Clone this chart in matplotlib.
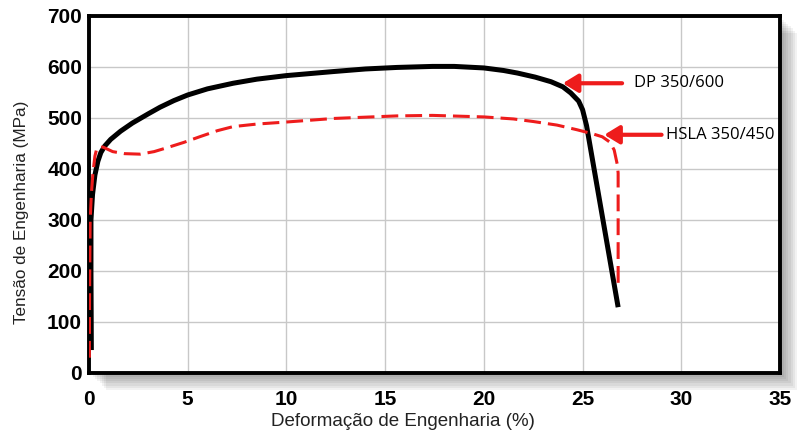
import matplotlib
matplotlib.use("Agg")
import matplotlib.pyplot as plt
from matplotlib.patches import Rectangle

# Curva DP 350/600 (deformação %, tensão MPa)
dp_strain = [0.12, 0.10, 0.10, 0.18, 0.30, 0.45, 0.60, 0.80, 1.1, 1.6, 2.2, 3.0, 3.6,
             4.3, 5.0, 6.0, 7.3, 8.5, 10.0, 12.4, 14.0, 15.6, 17.4, 18.5, 20.0,
             21.0, 21.7, 22.6, 23.4, 24.0, 24.4, 24.8, 25.0, 25.2, 26.8]
dp_stress = [45, 200, 300, 350, 388, 415, 432, 445, 458, 474, 490, 508, 521,
             534, 545, 557, 568, 576, 583, 591, 596, 599, 601, 601, 598,
             593, 588, 580, 571, 561, 549, 533, 516, 485, 129]

# Curva HSLA 350/450
hsla_strain = [0.02, 0.03, 0.06, 0.12, 0.2, 0.3, 0.4, 0.7, 1.2, 1.8, 2.6, 3.3, 3.9,
               4.8, 5.6, 6.5, 7.3, 8.5, 10.0, 12.4, 15.6, 17.4, 20.0, 21.5, 22.5,
               23.7, 24.7, 25.5, 26.0, 26.4, 26.6, 26.75, 26.8, 26.8]
hsla_stress = [30, 150, 300, 350, 392, 425, 441, 443, 434, 430, 429, 434, 441,
               452, 463, 475, 483, 488, 492, 499, 504, 505, 502, 498, 493,
               486, 477, 469, 463, 452, 437, 410, 392, 167]

x_ticks = [0, 5, 10, 15, 20, 25, 30, 35]
y_ticks = [0, 100, 200, 300, 400, 500, 600, 700]

fig = plt.figure(figsize=(7.98, 4.36), dpi=100)
fig.patch.set_facecolor('white')
pos = [0.1115, 0.1445, 0.866, 0.819]

# sombra do quadro
for k in range(8):
    off = (k + 1) * 0.0012
    fig.patches.append(Rectangle((pos[0] + off * 2.2, pos[1] - off * 4.0), pos[2], pos[3],
                                 transform=fig.transFigure, facecolor='black',
                                 alpha=0.05, edgecolor='none', zorder=0))

ax = fig.add_axes(pos)
ax.set_facecolor('white')
ax.set_zorder(1)

ax.plot(dp_strain, dp_stress, color='black', lw=3.6, solid_capstyle='butt',
        solid_joinstyle='round', zorder=3)
ax.plot(hsla_strain, hsla_stress, color='#ee1c1c', lw=2.2, dashes=(5.5, 2.3), zorder=4)

ax.set_xlim(0, 35)
ax.set_ylim(0, 700)
ax.set_xticks(x_ticks)
ax.set_yticks(y_ticks)
ax.grid(True, color='#c8c8c8', lw=1.0)
ax.set_axisbelow(True)
for s in ax.spines.values():
    s.set_linewidth(2.8)
    s.set_color('black')
ax.tick_params(length=0, pad=5)
ax.tick_params(axis='x', pad=12)
for lab in ax.get_xticklabels() + ax.get_yticklabels():
    lab.set_fontfamily('Liberation Sans')
    lab.set_fontweight('bold')
    lab.set_fontsize(15)

ax.set_xlabel('Deformação de Engenharia (%)', fontsize=13.5, family='Liberation Sans',
              color='#222222', va='center')
ax.set_ylabel('Tensão de Engenharia (MPa)', fontsize=12.3, family='Liberation Sans',
              color='#222222', va='center')
ax.xaxis.set_label_coords(0.454, -0.137)
ax.yaxis.set_label_coords(-0.098, 0.451)

arrow = dict(arrowstyle='-|>,head_length=0.9,head_width=0.55', color='#ee1c1c', lw=3.0,
             shrinkA=0, shrinkB=0)
ax.annotate('', xy=(24.0, 568), xytext=(27.0, 568), arrowprops=arrow, zorder=5)
ax.text(27.6, 568, 'DP 350/600', fontsize=12, family='Open Sans', va='center', ha='left')
ax.annotate('', xy=(26.1, 467), xytext=(29.0, 467), arrowprops=arrow, zorder=5)
ax.text(29.2, 467, 'HSLA 350/450', fontsize=12, family='Open Sans', va='center', ha='left')

fig.savefig('out.png', dpi=100, facecolor='white')
